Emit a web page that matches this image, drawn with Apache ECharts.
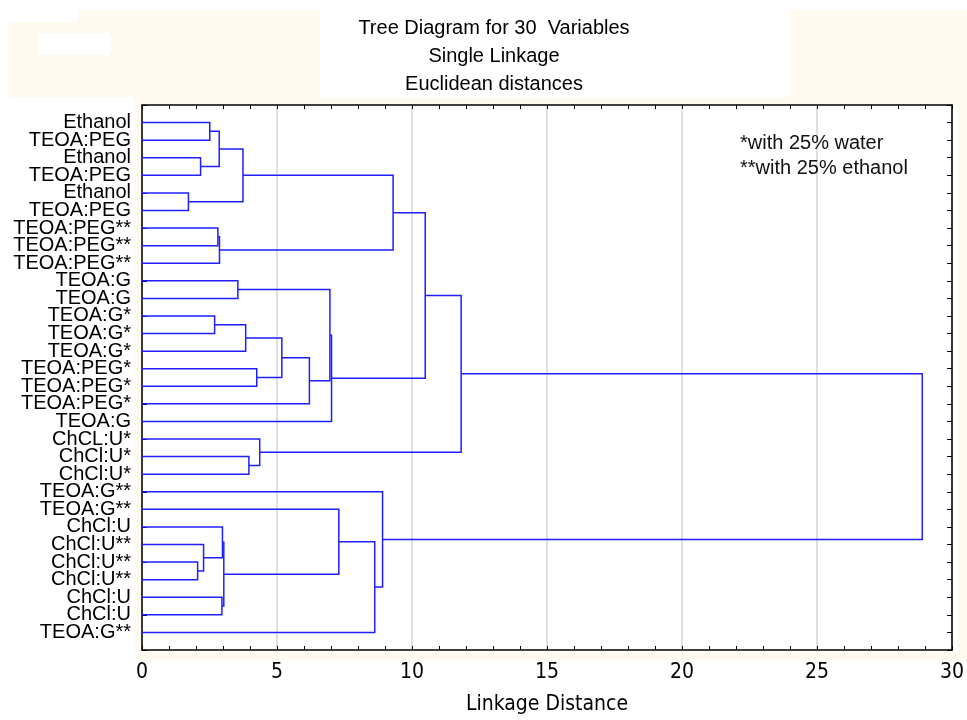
<!DOCTYPE html>
<html>
<head>
<meta charset="utf-8">
<script src="https://cdn.jsdelivr.net/npm/echarts@6/dist/echarts.min.js"></script>
<style>html,body{margin:0;padding:0;background:#fff}#c{width:967px;height:720px}</style>
</head>
<body>
<div id="c"></div>
<script>
// Leaf labels, top to bottom
var leafLabels = ['Ethanol','TEOA:PEG','Ethanol','TEOA:PEG','Ethanol','TEOA:PEG',
  'TEOA:PEG**','TEOA:PEG**','TEOA:PEG**','TEOA:G','TEOA:G','TEOA:G*','TEOA:G*','TEOA:G*',
  'TEOA:PEG*','TEOA:PEG*','TEOA:PEG*','TEOA:G','ChCL:U*','ChCl:U*','ChCl:U*',
  'TEOA:G**','TEOA:G**','ChCl:U','ChCl:U**','ChCl:U**','ChCl:U**','ChCl:U','ChCl:U','TEOA:G**'];
// Merges: [left node, right node, linkage distance]; leaves are 0..29, merge k creates node 30+k
var mergeLeft  = [0, 2, 30, 4, 32, 6, 35, 34, 9, 11, 39, 14, 40, 42, 38, 44, 37, 19, 18, 46, 25, 24, 23, 27, 52, 22, 55, 21, 49];
var mergeRight = [1, 3, 31, 5, 33, 7, 8, 36, 10, 12, 13, 15, 41, 16, 43, 17, 45, 20, 47, 48, 26, 50, 51, 28, 53, 54, 29, 56, 57];
var mergeDist  = [2.51, 2.17, 2.86, 1.72, 3.74, 2.81, 2.87, 9.30, 3.55, 2.69, 3.84, 4.25, 5.18, 6.20, 6.96, 7.02, 10.49, 3.96, 4.36, 11.82, 2.06, 2.28, 2.98, 2.96, 3.03, 7.29, 8.62, 8.91, 28.9];
var xTicks = [0, 5, 10, 15, 20, 25, 30];
var titleLines = ['Tree Diagram for 30  Variables', 'Single Linkage', 'Euclidean distances'];
var noteLines = ['*with 25% water', '**with 25% ethanol'];
var axisName = 'Linkage Distance';

// node positions (x = height, y = leaf order)
var nodeX = [], nodeY = [];
for (var i = 0; i < leafLabels.length; i++) { nodeX.push(0); nodeY.push(i + 1); }
var linkData = [];
for (var k = 0; k < mergeDist.length; k++) {
  var a = mergeLeft[k], b = mergeRight[k], h = mergeDist[k];
  linkData.push({coords: [[nodeX[a], nodeY[a]], [h, nodeY[a]], [h, nodeY[b]], [nodeX[b], nodeY[b]]]});
  nodeX.push(h); nodeY.push((nodeY[a] + nodeY[b]) / 2);
}

var cream = '#fffaef';
var narrow = "'Liberation Sans Narrow','DejaVu Sans Condensed',sans-serif";
var sans = "'Liberation Sans',Arial,sans-serif";
var chart = echarts.init(document.getElementById('c'), null, {renderer: 'canvas'});
var axisLineStyle = {color: '#000', width: 1.5};
var tickX = {show: true, inside: true, length: 4, lineStyle: {color: '#000'}};
var minorX = {show: true, splitNumber: 5, length: 4, lineStyle: {color: '#000'}};
var tickY = {show: true, inside: true, length: 5, lineStyle: {color: '#000'}};
chart.setOption({
  backgroundColor: '#ffffff',
  animation: false,
  title: {
    text: titleLines.join('\n'), left: 489, top: 9, textAlign: 'center',
    textStyle: {fontFamily: sans, fontSize: 20, fontWeight: 'normal', color: '#000', lineHeight: 28}
  },
  graphic: [
    {type: 'rect', z: -10, silent: true, shape: {x: 8, y: 22, width: 312, height: 75}, style: {fill: cream}},
    {type: 'rect', z: -10, silent: true, shape: {x: 77, y: 10, width: 243, height: 12}, style: {fill: cream}},
    {type: 'rect', z: -9, silent: true, shape: {x: 39, y: 33, width: 72, height: 22}, style: {fill: '#fff'}},
    {type: 'rect', z: -10, silent: true, shape: {x: 790, y: 10, width: 177, height: 90}, style: {fill: cream}},
    {type: 'rect', z: -10, silent: true, shape: {x: 135, y: 97, width: 832, height: 563}, style: {fill: cream}},
    {type: 'rect', z: -9, silent: true, shape: {x: 142, y: 105, width: 815, height: 547}, style: {fill: '#fff'}},
    {type: 'text', z: 10, x: 740, y: 143, style: {text: noteLines[0], fontFamily: sans, fontSize: 20, fill: '#111', verticalAlign: 'middle'}},
    {type: 'text', z: 10, x: 740, y: 168, style: {text: noteLines[1], fontFamily: sans, fontSize: 20, fill: '#111', verticalAlign: 'middle'}}
  ],
  grid: {left: 142, right: 10, top: 105, bottom: 68, show: false},
  xAxis: [{
    type: 'value', min: 0, max: 30, interval: 5, position: 'bottom',
    axisLine: {show: true, onZero: false, lineStyle: axisLineStyle},
    axisTick: tickX, minorTick: minorX,
    splitLine: {show: true, lineStyle: {color: '#d4d4d4', width: 1.5}},
    axisLabel: {margin: 12, fontFamily: narrow, fontSize: 21, color: '#000',
      formatter: function (v) { return xTicks.indexOf(v) >= 0 ? String(v) : ''; }},
    name: axisName, nameLocation: 'middle', nameGap: 44,
    nameTextStyle: {fontFamily: narrow, fontSize: 21, color: '#000'}
  }, {
    type: 'value', min: 0, max: 30, interval: 5, position: 'top',
    axisLine: {show: true, onZero: false, lineStyle: axisLineStyle},
    axisTick: tickX, minorTick: minorX,
    splitLine: {show: false}, axisLabel: {show: false}
  }],
  yAxis: [{
    type: 'value', min: 0, max: leafLabels.length + 1, interval: 1, inverse: true, position: 'left',
    axisLine: {show: true, onZero: false, lineStyle: axisLineStyle},
    axisTick: tickY,
    splitLine: {show: false},
    axisLabel: {margin: 11, fontFamily: sans, fontSize: 20, color: '#000',
      formatter: function (v) { return (v >= 1 && v <= leafLabels.length) ? leafLabels[v - 1] : ''; }}
  }, {
    type: 'value', min: 0, max: leafLabels.length + 1, interval: 1, inverse: true, position: 'right',
    axisLine: {show: true, onZero: false, lineStyle: axisLineStyle},
    axisTick: tickY,
    splitLine: {show: false}, axisLabel: {show: false}
  }],
  series: [{
    type: 'lines', coordinateSystem: 'cartesian2d', polyline: true,
    xAxisIndex: 0, yAxisIndex: 0, silent: true,
    lineStyle: {color: '#1f1fff', width: 1.5, opacity: 1},
    data: linkData
  }]
});
</script>
</body>
</html>
